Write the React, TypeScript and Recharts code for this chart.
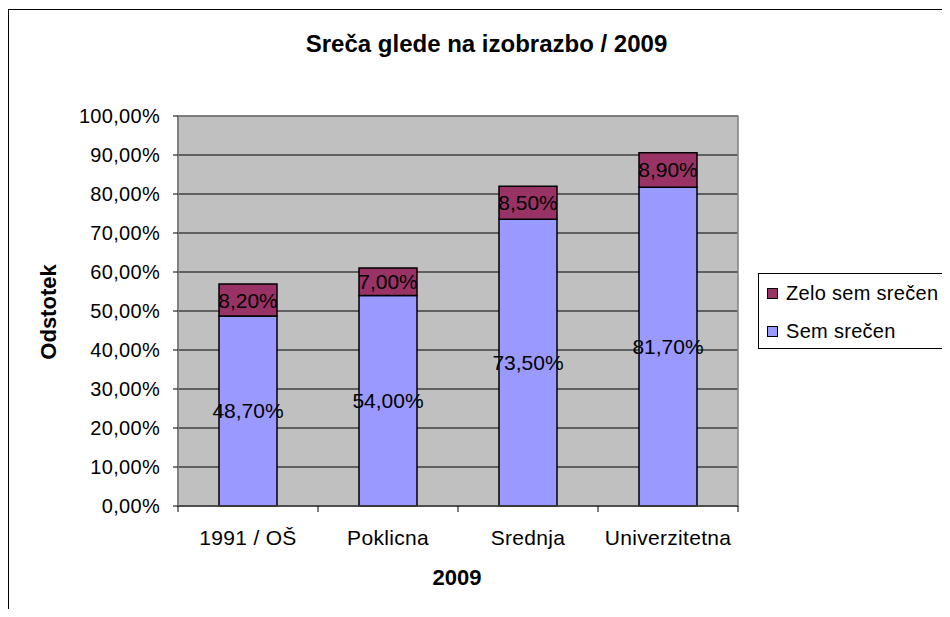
import React from "react";
import { Bar, BarChart, CartesianGrid, LabelList, ReferenceArea, XAxis, YAxis } from "recharts";

const categories = ["1991 / OŠ", "Poklicna", "Srednja", "Univerzitetna"];
const semSrecen = [48.7, 54.0, 73.5, 81.7];
const zeloSemSrecen = [8.2, 7.0, 8.5, 8.9];
const yTicks = [0, 10, 20, 30, 40, 50, 60, 70, 80, 90, 100];

const SEM_NAME = "Sem srečen";
const ZELO_NAME = "Zelo sem srečen";
const SEM_COLOR = "#9999FF";
const ZELO_COLOR = "#993366";

const FONT = '"Liberation Sans", Arial, sans-serif';

const CHART_W = 990;
const CHART_H = 690;
const MARGIN = { top: 106, right: 261, bottom: 134, left: 0 };
const Y_AXIS_W = 169;
const BAND = (CHART_W - MARGIN.left - MARGIN.right - Y_AXIS_W) / categories.length;

const data = categories.map((name, i) => ({
  name,
  sem: semSrecen[i],
  zelo: zeloSemSrecen[i],
}));

const pct = (v: number) => v.toFixed(2).replace(".", ",") + "%";

function CategoryTick(props: any) {
  const { x, y, payload, index } = props;
  const half = BAND / 2;
  return (
    <g>
      <line x1={x - half} x2={x - half} y1={y} y2={y + 6} stroke="#000" />
      {index === categories.length - 1 && (
        <line x1={x + half} x2={x + half} y1={y} y2={y + 6} stroke="#000" />
      )}
      <text
        x={x}
        y={y + 31}
        textAnchor="middle"
        dominantBaseline="central"
        fontSize={21}
        letterSpacing={0.3}
        fontFamily={FONT}
        fill="#000"
      >
        {payload.value}
      </text>
    </g>
  );
}

const legendItems = [
  { name: ZELO_NAME, color: ZELO_COLOR },
  { name: SEM_NAME, color: SEM_COLOR },
];

export default function App() {
  return (
    <div
      style={{
        width: 942,
        height: 609,
        marginBottom: -8,
        overflow: "hidden",
        position: "relative",
        fontFamily: FONT,
      }}
    >
      <div
        style={{
          position: "absolute",
          left: 0,
          top: 1,
          width: 1000,
          height: 700,
          border: "1px solid #000",
          boxSizing: "border-box",
          background: "#fff",
        }}
      >
        <BarChart width={CHART_W} height={CHART_H} data={data} margin={MARGIN} barSize={58}>
          <CartesianGrid vertical={false} stroke="#000" fill="#C0C0C0" fillOpacity={1} />
          <ReferenceArea y1={0} y2={100} fill="none" stroke="#808080" strokeWidth={1.5} />
          <XAxis
            dataKey="name"
            interval={0}
            tickSize={0}
            tickMargin={0}
            tickLine={false}
            axisLine={{ stroke: "#404040", strokeWidth: 1.5 }}
            tick={<CategoryTick />}
            height={60}
          />
          <YAxis
            width={Y_AXIS_W}
            domain={[0, 100]}
            ticks={yTicks}
            interval={0}
            tickFormatter={pct}
            tickSize={5}
            tickMargin={13}
            axisLine={{ stroke: "#808080", strokeWidth: 2 }}
            tickLine={{ stroke: "#000" }}
            tick={{ fill: "#000", fontSize: 20, fontFamily: FONT, letterSpacing: 0.3 }}
          />
          <Bar dataKey="sem" name={SEM_NAME} stackId="a" fill={SEM_COLOR} stroke="#000" strokeWidth={1.5} isAnimationActive={false}>
            <LabelList dataKey="sem" position="center" formatter={(v: any) => pct(Number(v))} fill="#000" fontSize={21} fontFamily={FONT} />
          </Bar>
          <Bar dataKey="zelo" name={ZELO_NAME} stackId="a" fill={ZELO_COLOR} stroke="#000" strokeWidth={1.5} isAnimationActive={false}>
            <LabelList dataKey="zelo" position="center" formatter={(v: any) => pct(Number(v))} fill="#000" fontSize={21} fontFamily={FONT} />
          </Bar>
        </BarChart>

        <svg
          width={CHART_W}
          height={CHART_H}
          style={{ position: "absolute", left: 0, top: 0, pointerEvents: "none" }}
        >
          <text x={477.5} y={33} textAnchor="middle" dominantBaseline="central" fontSize={24} fontWeight="bold" fontFamily={FONT} fill="#000">
            Sreča glede na izobrazbo / 2009
          </text>
          <text
            x={39.5}
            y={302}
            textAnchor="middle"
            dominantBaseline="central"
            fontSize={22}
            fontWeight="bold"
            fontFamily={FONT}
            fill="#000"
            transform="rotate(-90 39.5 302)"
          >
            Odstotek
          </text>
          <text x={448} y={567} textAnchor="middle" dominantBaseline="central" fontSize={22} fontWeight="bold" fontFamily={FONT} fill="#000">
            2009
          </text>
        </svg>

        <div
          style={{
            position: "absolute",
            left: 749,
            top: 263,
            width: 230,
            height: 76,
            border: "1px solid #000",
            boxSizing: "border-box",
            background: "#fff",
          }}
        >
          {legendItems.map((item, i) => (
            <div
              key={item.name}
              style={{
                position: "absolute",
                left: 8,
                top: 7 + i * 38,
                height: 25,
                display: "flex",
                alignItems: "center",
                whiteSpace: "nowrap",
              }}
            >
              <span
                style={{
                  display: "inline-block",
                  width: 11,
                  height: 11,
                  boxSizing: "border-box",
                  border: "1.5px solid #000",
                  background: item.color,
                  marginRight: 8,
                }}
              />
              <span style={{ fontSize: 20, letterSpacing: 0.3, color: "#000" }}>{item.name}</span>
            </div>
          ))}
        </div>
      </div>
    </div>
  );
}
